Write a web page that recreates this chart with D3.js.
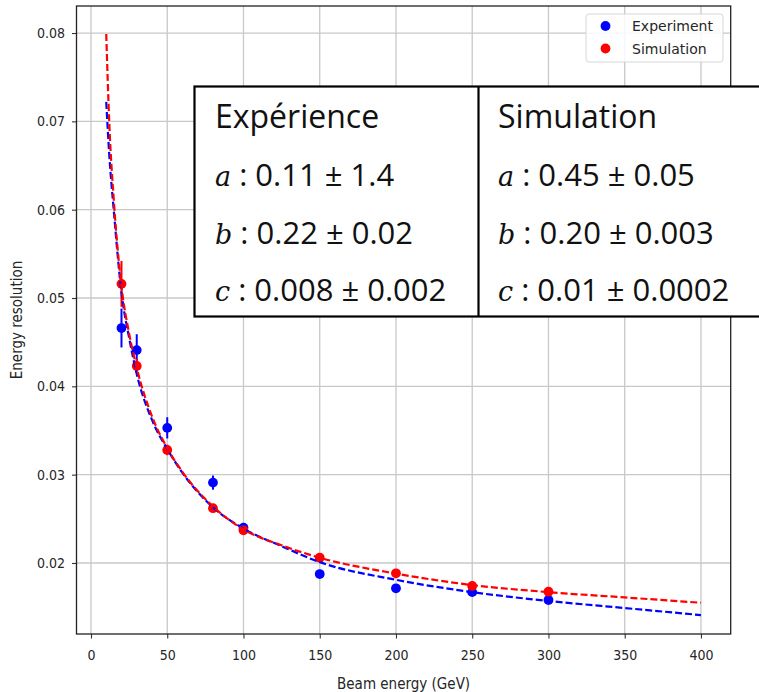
<!DOCTYPE html>
<html>
<head>
<meta charset="utf-8">
<script src="https://cdn.jsdelivr.net/npm/d3@7"></script>
<style>
  body { margin: 0; background: #fff; }
  svg { display: block; }
</style>
</head>
<body>
<div id="viz"></div>
<script>
// Measured points (beam energy in GeV, energy resolution)
const energies = [20, 30, 50, 80, 100, 150, 200, 250, 300];
const expValues = [0.0466, 0.0441, 0.0353, 0.0291, 0.0240, 0.01875, 0.01713, 0.0167, 0.0158];
const expErrors = [0.0022, 0.0018, 0.0012, 0.0008, 0.0003, 0.0002, 0.0002, 0.0002, 0.0002];
const simValues = [0.0516, 0.0423, 0.0328, 0.0262, 0.0237, 0.0206, 0.01883, 0.0174, 0.01675];
const simErrors = [0.0026, 0.0008, 0.0006, 0.0004, 0.0003, 0.0003, 0.0002, 0.0002, 0.0002];

// Fitted curves
const fitEnergies = [10, 12, 15, 20, 25, 30, 40, 50, 60, 80, 100, 125, 150, 200, 250, 300, 350, 400];
const expFit = [0.0722, 0.0662, 0.0598, 0.0506, 0.0455, 0.0414, 0.0362, 0.0329, 0.0302, 0.0263, 0.0239, 0.0219, 0.0201, 0.0181, 0.0167, 0.0157, 0.0149, 0.0141];
const simFit = [0.0799, 0.0698, 0.0610, 0.0513, 0.0460, 0.0421, 0.0366, 0.0330, 0.0303, 0.0264, 0.0238, 0.0220, 0.0206, 0.0188, 0.0175, 0.0167, 0.0161, 0.0155];

const xTicks = [0, 50, 100, 150, 200, 250, 300, 350, 400];
const yTicks = [0.02, 0.03, 0.04, 0.05, 0.06, 0.07, 0.08];

// Parameter table
const tableHeaders = ['Expérience', 'Simulation'];
const paramNames = ['a', 'b', 'c'];
const expParams = ['0.11 ± 1.4', '0.22 ± 0.02', '0.008 ± 0.002'];
const simParams = ['0.45 ± 0.05', '0.20 ± 0.003', '0.01 ± 0.0002'];

const width = 759;
const height = 692;
const plot = { left: 76.5, right: 730.7, top: 6, bottom: 634 };
const mplFont = '"DejaVu Sans", sans-serif';

const svg = d3.select('#viz').append('svg')
    .attr('width', width)
    .attr('height', height);

const xScale = d3.scaleLinear().domain([-9.5, 419.5]).range([plot.left, plot.right]);
const yScale = d3.scaleLinear().domain([0.01196, 0.08306]).range([plot.bottom, plot.top]);

// grid
const grid = svg.append('g');
grid.selectAll('.gx').data(xTicks).enter().append('line')
    .attr('x1', d => xScale(d)).attr('x2', d => xScale(d))
    .attr('y1', plot.top).attr('y2', plot.bottom)
    .attr('stroke', '#c8c8c8').attr('stroke-width', 1.3);
grid.selectAll('.gy').data(yTicks).enter().append('line')
    .attr('x1', plot.left).attr('x2', plot.right)
    .attr('y1', d => yScale(d)).attr('y2', d => yScale(d))
    .attr('stroke', '#c8c8c8').attr('stroke-width', 1.3);

// axes
const xAxis = svg.append('g')
    .attr('transform', `translate(0,${plot.bottom})`)
    .call(d3.axisBottom(xScale).tickValues(xTicks).tickSize(4.5).tickPadding(12).tickFormat(d3.format('d')));
const yAxis = svg.append('g')
    .attr('transform', `translate(${plot.left},0)`)
    .call(d3.axisLeft(yScale).tickValues(yTicks).tickSize(4.5).tickPadding(7).tickFormat(d3.format('.2f')));
[xAxis, yAxis].forEach(ax => {
    ax.select('.domain').remove();
    ax.selectAll('.tick line').attr('stroke', '#333').attr('stroke-width', 1.1);
    ax.selectAll('.tick text')
        .attr('fill', '#262626')
        .style('font-family', mplFont)
        .style('font-stretch', 'condensed')
        .style('font-size', '14px');
});

// error bars + points
function drawPoints(values, errors, color) {
    const g = svg.append('g');
    g.selectAll('line').data(energies).enter().append('line')
        .attr('x1', d => xScale(d)).attr('x2', d => xScale(d))
        .attr('y1', (d, i) => yScale(values[i] - errors[i]))
        .attr('y2', (d, i) => yScale(values[i] + errors[i]))
        .attr('stroke', color).attr('stroke-width', 2);
    g.selectAll('circle').data(energies).enter().append('circle')
        .attr('cx', d => xScale(d))
        .attr('cy', (d, i) => yScale(values[i]))
        .attr('r', 4.9)
        .attr('fill', color);
}
drawPoints(expValues, expErrors, '#0000ff');
drawPoints(simValues, simErrors, '#ff0000');

// fit curves
function drawFit(values, color) {
    const line = d3.line()
        .x(d => xScale(d[0]))
        .y(d => yScale(d[1]))
        .curve(d3.curveMonotoneX);
    svg.append('path')
        .datum(fitEnergies.map((e, i) => [e, values[i]]))
        .attr('d', line)
        .attr('fill', 'none')
        .attr('stroke', color)
        .attr('stroke-width', 2.2)
        .attr('stroke-dasharray', '7,3');
}
drawFit(expFit, '#0000ff');
drawFit(simFit, '#ff0000');

// frame
svg.append('rect')
    .attr('x', plot.left).attr('y', plot.top)
    .attr('width', plot.right - plot.left).attr('height', plot.bottom - plot.top)
    .attr('fill', 'none').attr('stroke', '#222').attr('stroke-width', 1.3);

// axis titles
svg.append('text')
    .attr('x', (plot.left + plot.right) / 2).attr('y', 689)
    .attr('text-anchor', 'middle')
    .attr('fill', '#262626')
    .style('font-family', mplFont).style('font-stretch', 'condensed').style('font-size', '15px')
    .text('Beam energy (GeV)');
svg.append('text')
    .attr('transform', `translate(22,${(plot.top + plot.bottom) / 2}) rotate(-90)`)
    .attr('text-anchor', 'middle')
    .attr('fill', '#262626')
    .style('font-family', mplFont).style('font-stretch', 'condensed').style('font-size', '15px')
    .text('Energy resolution');

// legend
const legend = svg.append('g');
legend.append('rect')
    .attr('x', 586).attr('y', 14).attr('width', 137).attr('height', 48).attr('rx', 3)
    .attr('fill', '#fff').attr('fill-opacity', 0.85)
    .attr('stroke', '#d6d6d6');
[['Experiment', '#0000ff'], ['Simulation', '#ff0000']].forEach((item, i) => {
    legend.append('circle').attr('cx', 605.5).attr('cy', 26 + i * 22.5).attr('r', 4.9).attr('fill', item[1]);
    legend.append('text')
        .attr('x', 632).attr('y', 31 + i * 22.5)
        .attr('fill', '#262626')
        .style('font-family', mplFont).style('font-size', '14px')
        .text(item[0]);
});

// parameter table overlay
const table = svg.append('g');
table.append('rect')
    .attr('x', 194.5).attr('y', 86.5).attr('width', 600).attr('height', 230)
    .attr('fill', '#fff').attr('stroke', '#000').attr('stroke-width', 2.2);
table.append('line')
    .attr('x1', 478.5).attr('x2', 478.5).attr('y1', 86.5).attr('y2', 316.5)
    .attr('stroke', '#000').attr('stroke-width', 2.2);

const tableFont = '"Open Sans", "Noto Sans", sans-serif';
const colX = [215, 498];
const rowY = [128, 186, 244, 301];
[expParams, simParams].forEach((col, c) => {
    table.append('text')
        .attr('x', colX[c]).attr('y', rowY[0])
        .attr('fill', '#111')
        .style('font-family', tableFont).style('font-size', '32px')
        .text(tableHeaders[c]);
    col.forEach((val, r) => {
        const t = table.append('text')
            .attr('x', colX[c]).attr('y', rowY[r + 1])
            .attr('fill', '#111')
            .style('font-family', tableFont).style('font-size', '31px');
        t.append('tspan')
            .style('font-family', '"DejaVu Serif", "Liberation Serif", serif')
            .style('font-style', 'italic')
            .style('font-size', '27px')
            .text(paramNames[r]);
        t.append('tspan').text(' : ' + val);
    });
});
</script>
</body>
</html>
